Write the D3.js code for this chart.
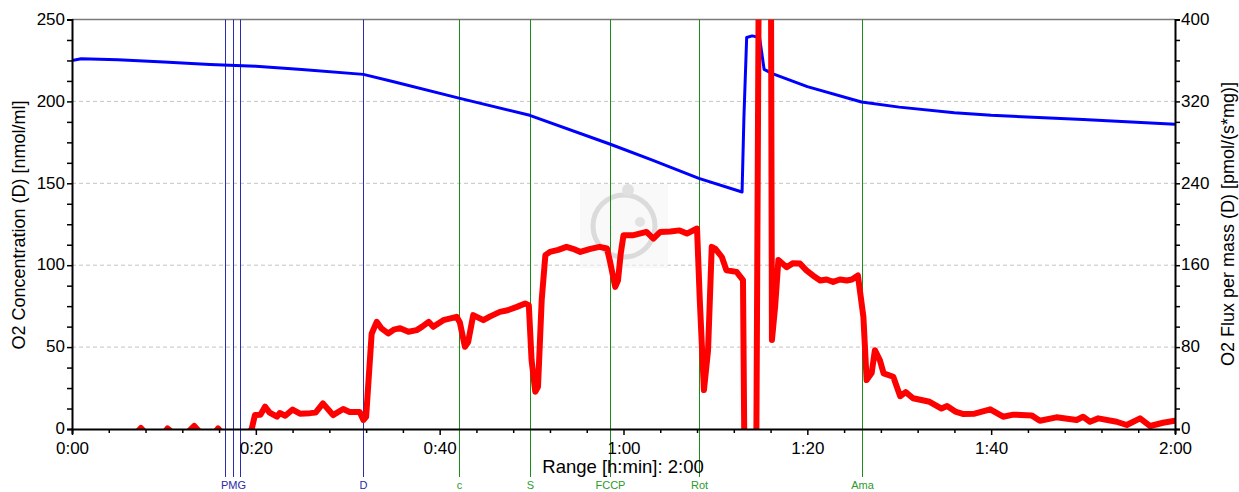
<!DOCTYPE html>
<html>
<head>
<meta charset="utf-8">
<script src="https://cdn.jsdelivr.net/npm/d3@7"></script>
<style>
  body { margin: 0; background: #fff; }
  text { font-family: "Liberation Sans", Arial, sans-serif; }
</style>
</head>
<body>
<div id="chart"></div>
<script>

// time axis (minutes) and tick labels
var xTickMinutes = [0, 20, 40, 60, 80, 100, 120];
var xTickLabels = ["0:00", "0:20", "0:40", "1:00", "1:20", "1:40", "2:00"];
var leftTicks = [0, 50, 100, 150, 200, 250];
var rightTicks = [0, 80, 160, 240, 320, 400];

// O2 concentration (blue, left axis)
var concTime = [0, 1, 5, 10, 15, 20, 25, 31.7, 35, 42.1, 49.8, 58.5, 63, 68.2, 72.9, 73.1, 73.4, 74, 74.8, 75.3, 76.2, 80, 85.9, 90, 96, 100, 110, 120];
var concValue = [225, 226, 225.5, 224, 222.5, 221.5, 219.5, 216.5, 212, 202, 191.5, 174, 164.5, 153, 144.7, 190, 239, 240, 239, 219.5, 217, 209, 199.6, 196.5, 193, 191.5, 189, 186];

// O2 flux per mass (red, right axis)
var fluxTime = [0, 7, 7.5, 8, 10, 10.4, 11, 12.5, 13.3, 14, 15.5, 15.9, 16.3, 19.2, 19.55, 19.9, 20.5, 21.0, 21.5, 22.3, 22.6, 23.2, 24.0, 24.8, 25.9, 26.5, 27.3, 28.4, 29.5, 30.2, 31.3, 31.7, 32.0,
  32.6, 33.15, 33.7, 34.4, 35.0, 35.7, 36.6, 37.5, 38.1, 38.8, 39.3, 40.4, 41.85, 42.2, 42.75, 43.1, 43.65, 44.75, 45.5, 46.55, 47.4, 48.4, 49.3, 49.7,
  50.0, 50.4, 50.7, 51.1, 51.5, 52.0, 52.9, 53.8, 54.5, 55.3, 56.4, 57.4, 58.2, 58.5, 59.1, 59.4, 59.7, 60.0, 61.1, 62.5, 63.25, 64.0, 65.1, 66.1, 66.9, 68.0,
  68.3, 68.75, 69.2, 69.6, 70.0, 70.7, 71.2, 72.3, 73.0, 73.15, 74.45, 74.7, 76.05, 76.15, 76.5, 76.85, 77.75, 78.45, 79.2, 79.9, 80.6, 81.4, 82.1, 82.8,
  83.55, 84.3, 84.85, 85.5, 86.1, 86.45, 87.0, 87.35, 87.9, 88.3, 89.35, 90.1, 90.7, 91.5, 93.3, 94.6, 95.2, 96.1, 97.0, 98.2, 99.9, 101.3, 102.4, 104.4,
  105.3, 107.1, 109.3, 110.0, 110.75, 111.65, 113.65, 114.75, 116.2, 117.3, 118.7, 120];
var fluxValue = [-4, -4, 1, -4, -4, 0.5, -4, -4, 3, -4, -4, 0.5, -4, -4, 0, 13.6, 14, 21.8, 16, 12, 15.6, 13, 19, 15, 15.5, 16, 25, 13.6, 19.5, 16.6, 16.6, 8.8, 12,
  93, 104.7, 98, 93.4, 97, 98.5, 95, 96.6, 100, 104.7, 99.8, 106.3, 109.6, 104, 80.3, 85, 111.2, 106.3, 110, 114.4, 116, 119.3, 122.6, 121,
  67.3, 36.4, 41.3, 125.9, 169.8, 173, 175, 177.9, 176, 173, 176, 177.9, 176.3, 165, 138.8, 145, 171.4, 189.3, 189.3, 192.5, 186, 192.5, 193, 194, 190.9, 195.8,
  125.9, 38, 77, 177.9, 176, 168, 155, 153.5, 145.4, -20, -20, 420, 420, 87, 120, 165, 158, 162, 161.6, 155, 150, 145, 146, 143.7,
  146, 145, 146, 150, 109.6, 47.8, 54.6, 77, 67, 54.3, 51, 32, 36, 30, 26.6, 20, 22.4, 17, 14.6, 15, 19.2, 12, 14, 13.3,
  8.1, 11.4, 8.8, 12, 7.1, 10.4, 7.1, 3.9, 10.4, 2.9, 6.1, 8];

// event marks
var eventTime = [16.6, 17.5, 18.3, 31.7, 42.1, 49.8, 58.5, 68.2, 85.9];
var eventLabel = ["", "PMG", "", "D", "c", "S", "FCCP", "Rot", "Ama"];
var eventGroup = ["blue", "blue", "blue", "blue", "green", "green", "green", "green", "green"];

function init() {
    var w = 1239;
    var h = 492;
    var plot = {left: 72, right: 1175, top: 19.5, bottom: 429};

    var lineColors = {blue: "#2b2bb0", green: "#1a8c1a"};
    var labelColors = {blue: "#2a2aa6", green: "#2c9a2c"};

    var svg = d3.select("#chart")
        .append("svg")
        .attr("width", w)
        .attr("height", h);

    var xScale = d3.scaleLinear().domain([0, 120]).range([plot.left, plot.right]);
    var yLeft = d3.scaleLinear().domain([0, 250]).range([plot.bottom, plot.top]);
    var yRight = d3.scaleLinear().domain([0, 400]).range([plot.bottom, plot.top]);

    svg.append("clipPath").attr("id", "clip")
        .append("rect")
        .attr("x", plot.left).attr("y", plot.top)
        .attr("width", plot.right - plot.left)
        .attr("height", plot.bottom - plot.top);

    // dashed gridlines
    svg.append("g").selectAll("line")
        .data(leftTicks.filter(d => d > 0 && d < 250))
        .enter().append("line")
        .attr("x1", plot.left).attr("x2", plot.right)
        .attr("y1", d => yLeft(d)).attr("y2", d => yLeft(d))
        .attr("stroke", "#c4c4c4")
        .attr("stroke-width", 1)
        .attr("stroke-dasharray", "4,3");

    // faint watermark
    var wm = svg.append("g").attr("opacity", 0.6);
    wm.append("rect").attr("x", 580).attr("y", 184).attr("width", 88).attr("height", 84).attr("fill", "#f6f6f6");
    wm.append("circle").attr("cx", 624).attr("cy", 226).attr("r", 31)
        .attr("fill", "none").attr("stroke", "#c4c4c4").attr("stroke-width", 5);
    wm.append("circle").attr("cx", 628).attr("cy", 190).attr("r", 6).attr("fill", "#cccccc");
    wm.append("circle").attr("cx", 640).attr("cy", 222).attr("r", 5).attr("fill", "#cfcfcf");

    // top frame line
    svg.append("line")
        .attr("x1", plot.left).attr("x2", plot.right)
        .attr("y1", plot.top).attr("y2", plot.top)
        .attr("stroke", "#7a7a7a").attr("stroke-width", 1.5);

    // event lines + labels
    var ev = svg.append("g");
    eventTime.forEach(function(t, i) {
        var x = Math.round(xScale(t)) + 0.5;
        ev.append("line")
            .attr("x1", x).attr("x2", x)
            .attr("y1", plot.top).attr("y2", 477)
            .attr("stroke", lineColors[eventGroup[i]])
            .attr("stroke-width", 1);
        if (eventLabel[i] !== "") {
            ev.append("text")
                .attr("x", x).attr("y", 489)
                .attr("text-anchor", "middle")
                .attr("font-size", "11px")
                .attr("fill", labelColors[eventGroup[i]])
                .text(eventLabel[i]);
        }
    });

    var data = svg.append("g").attr("clip-path", "url(#clip)");

    var concLine = d3.line()
        .x((d, i) => xScale(concTime[i]))
        .y(d => yLeft(d));
    data.append("path")
        .attr("d", concLine(concValue))
        .attr("fill", "none")
        .attr("stroke", "#0000ff")
        .attr("stroke-width", 3)
        .attr("stroke-linejoin", "round");

    var fluxLine = d3.line()
        .x((d, i) => xScale(fluxTime[i]))
        .y(d => yRight(d));
    data.append("path")
        .attr("d", fluxLine(fluxValue))
        .attr("fill", "none")
        .attr("stroke", "#ff0000")
        .attr("stroke-width", 6)
        .attr("stroke-linejoin", "round")
        .attr("stroke-linecap", "round");

    // axes
    var xAxis = d3.axisBottom(xScale)
        .tickValues(d3.range(0, 121, 4))
        .tickSize(5)
        .tickFormat(d => {
            var k = xTickMinutes.indexOf(d);
            return k >= 0 ? xTickLabels[k] : "";
        });
    var gx = svg.append("g")
        .attr("transform", "translate(0," + plot.bottom + ")")
        .call(xAxis);
    gx.selectAll(".tick line").attr("y2", d => xTickMinutes.indexOf(d) >= 0 ? 6 : 4);

    var leftAxis = d3.axisLeft(yLeft)
        .tickValues(d3.range(0, 250.1, 12.5))
        .tickSize(5)
        .tickFormat(d => leftTicks.indexOf(d) >= 0 ? d : "");
    var gl = svg.append("g")
        .attr("transform", "translate(" + plot.left + ",0)")
        .call(leftAxis);

    var rightAxis = d3.axisRight(yRight)
        .tickValues(d3.range(0, 401, 20))
        .tickSize(5)
        .tickFormat(d => rightTicks.indexOf(d) >= 0 ? d : "");
    var gr = svg.append("g")
        .attr("transform", "translate(" + plot.right + ",0)")
        .call(rightAxis);

    [gx, gl, gr].forEach(function(g) {
        g.select(".domain").attr("stroke", "#000").attr("stroke-width", 2);
        g.selectAll(".tick line").attr("stroke", "#000").attr("stroke-width", 1.5);
        g.selectAll("text")
            .attr("font-family", "'Liberation Sans', Arial, sans-serif")
            .attr("font-size", "17px")
            .attr("fill", "#000");
    });
    gx.selectAll("text").attr("dy", "0.71em").attr("y", 12.5);
    gl.selectAll("text").attr("x", -7).attr("dy", "0.28em");
    gr.selectAll("text").attr("x", 6).attr("dy", "0.28em");

    // axis titles
    svg.append("text")
        .attr("transform", "translate(25,225) rotate(-90)")
        .attr("text-anchor", "middle")
        .attr("font-size", "18px")
        .attr("fill", "#000")
        .text("O2 Concentration (D) [nmol/ml]");

    svg.append("text")
        .attr("transform", "translate(1234,224) rotate(-90)")
        .attr("text-anchor", "middle")
        .attr("font-size", "18px")
        .attr("fill", "#000")
        .text("O2 Flux per mass (D) [pmol/(s*mg)]");

    svg.append("text")
        .attr("x", 623).attr("y", 473)
        .attr("text-anchor", "middle")
        .attr("font-size", "18.5px")
        .attr("fill", "#000")
        .text("Range [h:min]: 2:00");
}

window.onload = init;
</script>
</body>
</html>
